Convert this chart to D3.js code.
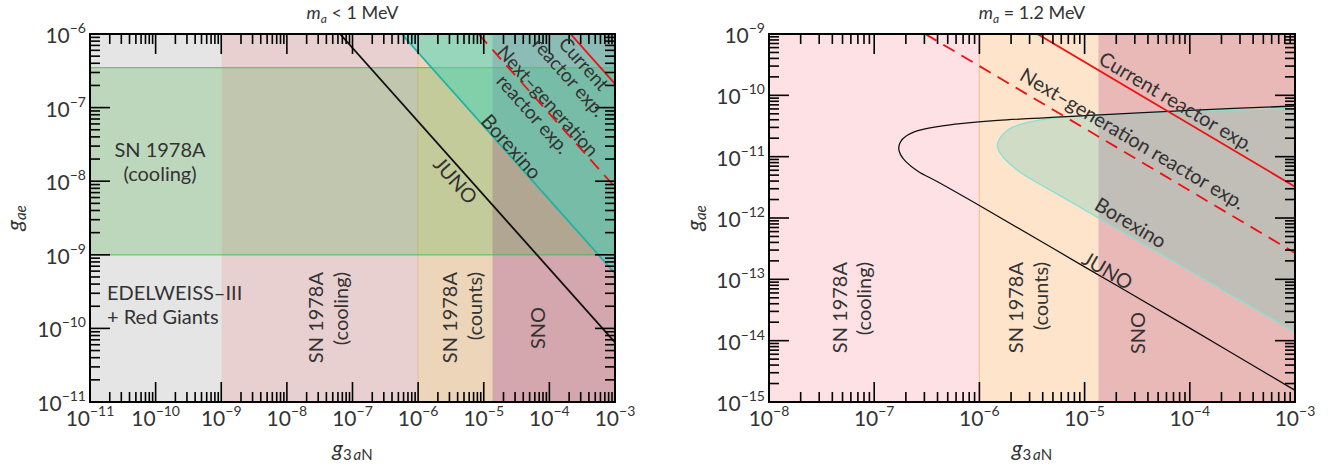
<!DOCTYPE html>
<html>
<head>
<meta charset="utf-8">
<script src="https://cdn.jsdelivr.net/npm/d3@7"></script>
<style>
  body { margin: 0; background: #fff; }
  text { font-family: Lato, "Open Sans", sans-serif; fill: #333; }
</style>
</head>
<body>
<svg id="chart" width="1338" height="468"></svg>
<script>
// ----------------------
// DATA: left panel (m_a < 1 MeV)
// ----------------------
const leftXDomain = [1e-11, 1e-3];
const leftYDomain = [1e-11, 1e-6];
const leftBands = [
  { id: "edelweiss", from: 1e-11, to: 1e-9 },
  { id: "cooling",   from: 1e-9,  to: 1e-6 },
  { id: "counts",    from: 1e-6,  to: 1.35e-5 },
  { id: "sno",       from: 1.35e-5, to: 1e-3 }
];
const leftCoolingGae = [1e-9, 3.5e-7];          // SN 1978A cooling, g_ae band
const leftJuno = [[6.46e-8, 1e-6], [1e-3, 6.46e-11]];
const leftBorexino = [[5.6e-7, 1e-6], [1e-3, 5.6e-10]];
const leftCurrentReactor = [[2.1e-4, 1e-6], [1e-3, 2.1e-7]];
const leftNextReactor = [[8.3e-6, 1e-6], [1e-3, 8.3e-9]];

// ----------------------
// DATA: right panel (m_a = 1.2 MeV)
// ----------------------
const rightXDomain = [1e-8, 1e-3];
const rightYDomain = [1e-15, 1e-9];
const rightBands = [
  { id: "cooling", from: 1e-8,  to: 1e-6 },
  { id: "counts",  from: 1e-6,  to: 1.35e-5 },
  { id: "sno",     from: 1.35e-5, to: 1e-3 }
];
// JUNO contour: upper branch (right -> nose), then lower branch (nose -> right)
const rightJuno = [
  [1e-3, 6.7e-11], [1e-4, 5.7e-11], [1.4e-5, 4.8e-11], [1.5e-6, 3.9e-11],
  [7e-7, 3.5e-11], [4e-7, 3.1e-11], [2.6e-7, 2.65e-11], [2.0e-7, 2.15e-11],
  [1.78e-7, 1.75e-11], [1.71e-7, 1.36e-11], [1.78e-7, 1.08e-11],
  [2.0e-7, 8.3e-12], [2.6e-7, 5.8e-12], [4e-7, 3.9e-12], [1e-6, 1.6e-12],
  [1e-5, 1.6e-13], [1e-4, 1.6e-14], [1e-3, 1.55e-15]
];
const rightBorexino = [
  [1e-3, 6.1e-11], [1e-4, 5.5e-11], [1.4e-5, 4.8e-11], [6e-6, 4.4e-11],
  [2.5e-6, 3.4e-11], [1.9e-6, 2.8e-11], [1.6e-6, 2.1e-11], [1.48e-6, 1.55e-11],
  [1.6e-6, 1.1e-11], [2.3e-6, 6e-12], [6e-6, 2.25e-12], [2.2e-5, 6.2e-13],
  [1e-4, 1.38e-13], [1e-3, 1.38e-14]
];
const rightCurrentReactor = [[3.56e-6, 1e-9], [1e-3, 3.24e-12]];
const rightNextReactor = [[3.06e-7, 1e-9], [1e-3, 2.69e-13]];

// ----------------------
// STYLES
// ----------------------
const leftColors = { edelweiss: "#e5e5e5", cooling: "#e8d0d1", counts: "#ecd5b8", sno: "#d4a6ad" };
const rightColors = { cooling: "#fde1e4", counts: "#fee4cb", sno: "#e8b9b6" };

const svg = d3.select("#chart");
const sup = s => s.replace("-", "\u2212");

function drawPanel(cfg){
  const g = svg.append("g");
  const x = d3.scaleLog().domain(cfg.xDomain).range([cfg.left, cfg.right]);
  const y = d3.scaleLog().domain(cfg.yDomain).range([cfg.bottom, cfg.top]);
  const clipId = "clip-" + cfg.name;
  g.append("clipPath").attr("id", clipId).append("rect")
    .attr("x", cfg.left).attr("y", cfg.top)
    .attr("width", cfg.right - cfg.left).attr("height", cfg.bottom - cfg.top);
  const plot = g.append("g").attr("clip-path", `url(#${clipId})`);

  // vertical bands
  plot.selectAll("rect.band").data(cfg.bands).join("rect").attr("class", "band")
    .attr("x", d => x(d.from)).attr("y", cfg.top)
    .attr("width", d => x(d.to) - x(d.from)).attr("height", cfg.bottom - cfg.top)
    .attr("fill", d => cfg.colors[d.id]);
  plot.append("line")
    .attr("x1", x(1e-6)).attr("x2", x(1e-6)).attr("y1", cfg.top).attr("y2", cfg.bottom)
    .attr("stroke", cfg.countsEdge).attr("stroke-width", 1.2);

  if(cfg.coolingGae){
    plot.append("rect")
      .attr("x", cfg.left).attr("width", cfg.right - cfg.left)
      .attr("y", y(cfg.coolingGae[1])).attr("height", y(cfg.coolingGae[0]) - y(cfg.coolingGae[1]))
      .attr("fill", "rgba(50,170,50,0.22)");
    cfg.coolingGae.forEach(v => plot.append("line")
      .attr("x1", cfg.left).attr("x2", cfg.right).attr("y1", y(v)).attr("y2", y(v))
      .attr("stroke", "rgba(70,185,70,0.7)").attr("stroke-width", 1.2));
  }

  const line = d3.line().x(d => x(d[0])).y(d => y(d[1]));
  const curve = d3.line().x(d => x(d[0])).y(d => y(d[1])).curve(d3.curveCatmullRom.alpha(0.5));

  // Borexino region
  if(cfg.borexinoClosed){
    plot.append("path").attr("d", curve(cfg.borexino))
      .attr("fill", "rgba(90,200,190,0.27)").attr("stroke", "#88e0d4").attr("stroke-width", 1.3);
  } else {
    const poly = cfg.borexino.concat([[cfg.xDomain[1], cfg.yDomain[1]]]);
    plot.append("path").attr("d", line(poly) + "Z").attr("fill", "rgba(50,215,190,0.45)");
    plot.append("path").attr("d", line(cfg.borexino)).attr("fill", "none")
      .attr("stroke", "#1fb3a5").attr("stroke-width", 1.8);
  }

  plot.append("path").attr("d", (cfg.borexinoClosed ? curve : line)(cfg.juno))
    .attr("fill", "none").attr("stroke", "#111").attr("stroke-width", cfg.borexinoClosed ? 1.3 : 1.8);
  plot.append("path").attr("d", line(cfg.nextReactor)).attr("fill", "none")
    .attr("stroke", "#ee1111").attr("stroke-width", 1.8).attr("stroke-dasharray", "13,8");
  plot.append("path").attr("d", line(cfg.currentReactor)).attr("fill", "none")
    .attr("stroke", "#ee1111").attr("stroke-width", 1.8);

  // frame + inward ticks on all sides
  const ticks = (dom) => {
    const out = [];
    const e0 = Math.round(Math.log10(dom[0])), e1 = Math.round(Math.log10(dom[1]));
    for(let e = e0; e <= e1; e++){
      out.push({ v: Math.pow(10, e), major: true, e: e });
      if(e < e1) for(let k = 2; k <= 9; k++) out.push({ v: k * Math.pow(10, e), major: false });
    }
    return out;
  };
  const tk = g.append("g").attr("stroke", "#000").attr("stroke-width", 1.6);
  ticks(cfg.xDomain).forEach(t => {
    const L = t.major ? 20 : 10, px = x(t.v);
    tk.append("line").attr("x1", px).attr("x2", px).attr("y1", cfg.bottom).attr("y2", cfg.bottom - L);
    tk.append("line").attr("x1", px).attr("x2", px).attr("y1", cfg.top).attr("y2", cfg.top + L);
  });
  ticks(cfg.yDomain).forEach(t => {
    const L = t.major ? 20 : 10, py = y(t.v);
    tk.append("line").attr("x1", cfg.left).attr("x2", cfg.left + L).attr("y1", py).attr("y2", py);
    tk.append("line").attr("x1", cfg.right).attr("x2", cfg.right - L).attr("y1", py).attr("y2", py);
  });
  g.append("rect").attr("x", cfg.left).attr("y", cfg.top)
    .attr("width", cfg.right - cfg.left).attr("height", cfg.bottom - cfg.top)
    .attr("fill", "none").attr("stroke", "#000").attr("stroke-width", 2);

  // tick labels
  ticks(cfg.xDomain).filter(t => t.major).forEach(t => {
    const tx = g.append("text").attr("x", x(t.v)).attr("y", cfg.bottom + 24)
      .attr("text-anchor", "middle").attr("font-size", 21);
    tx.append("tspan").text("10");
    tx.append("tspan").attr("dy", -10).attr("font-size", 14).text(sup(String(t.e)));
  });
  ticks(cfg.yDomain).filter(t => t.major).forEach(t => {
    const tx = g.append("text").attr("x", cfg.left - 4).attr("y", y(t.v) + 9)
      .attr("text-anchor", "end").attr("font-size", 21);
    tx.append("tspan").text("10");
    tx.append("tspan").attr("dy", -10).attr("font-size", 14).text(sup(String(t.e)));
  });

  // axis titles
  const cx = (cfg.left + cfg.right) / 2;
  const ttl = g.append("text").attr("x", cx).attr("y", 19).attr("text-anchor", "middle").attr("font-size", 18);
  ttl.append("tspan").attr("font-style", "italic").text("m");
  ttl.append("tspan").attr("dy", 4).attr("font-size", 12).attr("font-style", "italic").text("a");
  ttl.append("tspan").attr("dy", -4).text(cfg.title);

  const xl = g.append("text").attr("x", cx).attr("y", 456).attr("text-anchor", "middle").attr("font-size", 22);
  xl.append("tspan").attr("font-style", "italic").text("g");
  xl.append("tspan").attr("dy", 4).attr("font-size", 15).text("3\u2009");
  xl.append("tspan").attr("font-size", 15).attr("font-style", "italic").text("a");
  xl.append("tspan").attr("font-size", 15).text("N");

  const yl = g.append("text").attr("transform", `translate(${cfg.yLabelX},218) rotate(-90)`)
    .attr("text-anchor", "middle").attr("font-size", 22);
  yl.append("tspan").attr("font-style", "italic").text("g");
  yl.append("tspan").attr("dy", 4).attr("font-size", 15).attr("font-style", "italic").text("ae");

  // in-plot annotations
  const lab = g.append("g").attr("font-size", 20);
  cfg.labels.forEach(l => {
    let ang = l.angle;
    if(l.along){
      const p = l.along;
      ang = Math.atan2(y(p[1][1]) - y(p[0][1]), x(p[1][0]) - x(p[0][0])) * 180 / Math.PI;
    }
    const t = lab.append("text").attr("transform", `translate(${l.x},${l.y}) rotate(${ang})`)
      .attr("text-anchor", l.anchor || "middle");
    if(l.size) t.attr("font-size", l.size);
    const n = l.lines.length, lh = l.lh || 22;
    l.lines.forEach((s, i) => {
      t.append("tspan").attr("x", 0)
        .attr("y", l.along ? (i - (n - 1) / 2) * lh : i * lh)
        .attr("dominant-baseline", l.along ? "central" : "auto")
        .text(s);
    });
  });
}

drawPanel({
  name: "left", left: 90, right: 615, top: 34, bottom: 402,
  xDomain: leftXDomain, yDomain: leftYDomain, bands: leftBands, colors: leftColors,
  countsEdge: "rgba(235,170,110,0.5)",
  coolingGae: leftCoolingGae, borexino: leftBorexino, juno: leftJuno,
  currentReactor: leftCurrentReactor, nextReactor: leftNextReactor,
  title: " < 1 MeV", yLabelX: 22,
  labels: [
    { x: 160, y: 157, angle: 0, lines: ["SN 1978A", "(cooling)"], lh: 24 },
    { x: 107, y: 300, angle: 0, anchor: "start", lines: ["EDELWEISS\u2013III", "+ Red Giants"], lh: 24 },
    { x: 323, y: 272, angle: -90, anchor: "end", lines: ["SN 1978A", "(cooling)"], lh: 25 },
    { x: 457, y: 272, angle: -90, anchor: "end", lines: ["SN 1978A", "(counts)"], lh: 25 },
    { x: 545, y: 328, angle: -90, lines: ["SNO"] },
    { x: 456, y: 180, along: leftJuno, lines: ["JUNO"] },
    { x: 512, y: 146, along: leftBorexino, lines: ["Borexino"] },
    { x: 541, y: 107, along: leftNextReactor, lines: ["Next\u2013generation", "reactor exp."], lh: 20, size: 19 },
    { x: 577, y: 70, along: leftCurrentReactor, lines: ["Current", "reactor exp."], lh: 20, size: 19 }
  ]
});

drawPanel({
  name: "right", left: 769, right: 1295, top: 34, bottom: 402,
  xDomain: rightXDomain, yDomain: rightYDomain, bands: rightBands, colors: rightColors,
  countsEdge: "rgba(248,180,120,0.7)",
  borexinoClosed: true, borexino: rightBorexino, juno: rightJuno,
  currentReactor: rightCurrentReactor, nextReactor: rightNextReactor,
  title: " = 1.2 MeV", yLabelX: 702,
  labels: [
    { x: 847, y: 262, angle: -90, anchor: "end", lines: ["SN 1978A", "(cooling)"], lh: 24 },
    { x: 1023, y: 262, angle: -90, anchor: "end", lines: ["SN 1978A", "(counts)"], lh: 25 },
    { x: 1145, y: 333, angle: -90, lines: ["SNO"] },
    { x: 1177, y: 101, along: rightCurrentReactor, lines: ["Current reactor exp."] },
    { x: 1133, y: 138, along: rightNextReactor, lines: ["Next\u2013generation reactor exp."] },
    { x: 1131, y: 222, along: rightCurrentReactor, lines: ["Borexino"] },
    { x: 1108, y: 270, along: rightCurrentReactor, lines: ["JUNO"] }
  ]
});
</script>
</body>
</html>
